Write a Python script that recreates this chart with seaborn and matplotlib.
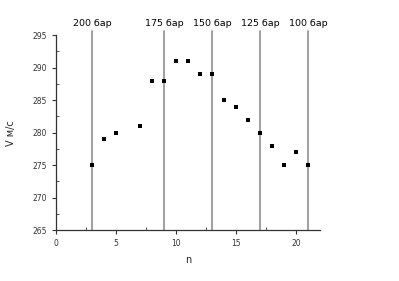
import matplotlib
matplotlib.use("Agg")
import matplotlib.pyplot as plt
import seaborn as sns
import pandas as pd
from matplotlib.ticker import MultipleLocator

n_vals = [3, 4, 5, 7, 8, 9, 10, 11, 12, 13, 14, 15, 16, 17, 18, 19, 20, 21]
v_vals = [275, 279, 280, 281, 288, 288, 291, 291, 289, 289, 285, 284, 282, 280, 278, 275, 277, 275]
line_pos = [3, 9, 13, 17, 21]
line_labels = ["200 бар", "175 бар", "150 бар", "125 бар", "100 бар"]

sns.set_style("white")
plt.rcParams['font.family'] = ['DejaVu Sans']

df = pd.DataFrame({"n": n_vals, "V": v_vals})

fig = plt.figure(figsize=(3.99, 2.81), dpi=100)
ax = fig.add_axes([0.14, 0.181, 0.662, 0.694])

for xp, lab in zip(line_pos, line_labels):
    ax.plot([xp, xp], [265, 295.6], color="#8f8f8f", lw=1.2, clip_on=False, zorder=1)
    ax.text(xp, 296.1, lab, ha="center", va="bottom", fontsize=6.8, color="black")

sns.scatterplot(data=df, x="n", y="V", marker="s", color="black", s=10,
                edgecolor="black", linewidth=0, ax=ax, zorder=3)

ax.set_xlim(0, 22)
ax.set_ylim(265, 295)
ax.xaxis.set_major_locator(MultipleLocator(5))
ax.xaxis.set_minor_locator(MultipleLocator(2.5))
ax.yaxis.set_major_locator(MultipleLocator(5))
ax.yaxis.set_minor_locator(MultipleLocator(2.5))
ax.tick_params(which="major", direction="out", length=3, width=0.8, labelsize=5.5, colors="#333333", labelcolor="#333333", left=True, bottom=True)
ax.tick_params(which="minor", direction="in", length=2, width=0.6, left=True, bottom=True, colors="#333333")
for s in ["top", "right"]:
    ax.spines[s].set_visible(False)
for s in ["left", "bottom"]:
    ax.spines[s].set_color("#333333")
    ax.spines[s].set_linewidth(0.9)

ax.set_xlabel("n", fontsize=7)
ax.set_ylabel("V м/с", fontsize=7)
ax.xaxis.set_label_coords(0.5, -0.13)
ax.yaxis.set_label_coords(-0.15, 0.5)

fig.savefig("out.png", dpi=100)
